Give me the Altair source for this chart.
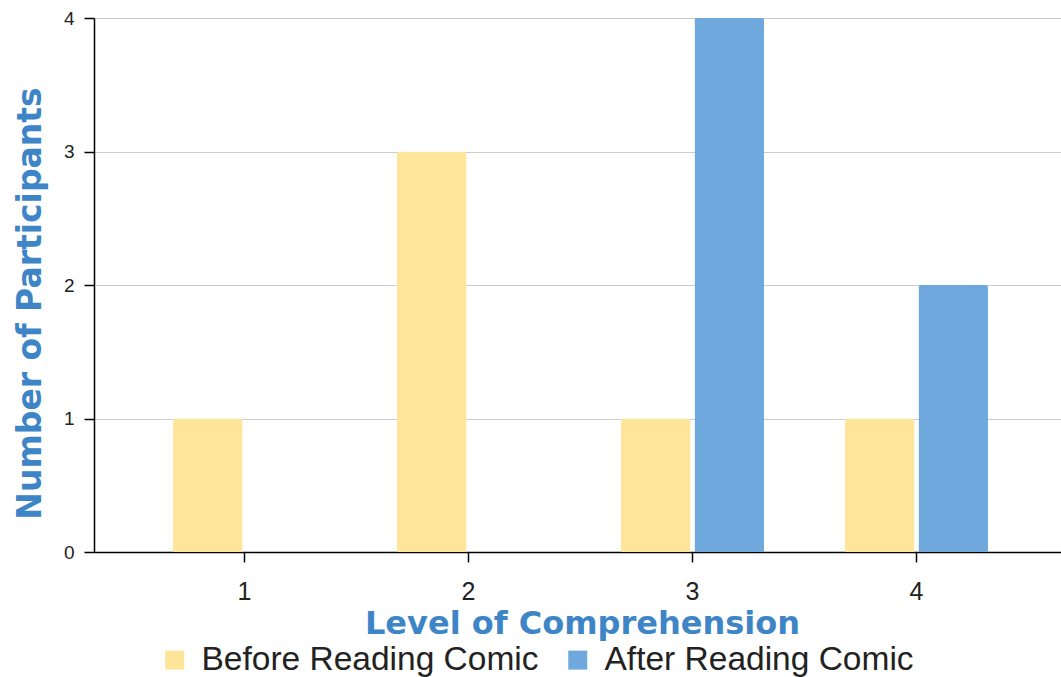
import altair as alt
import pandas as pd

# Comprehension levels and participant counts per survey round
levels = ["1", "2", "3", "4"]
series = ["Before Reading Comic", "After Reading Comic"]
before_counts = [1, 3, 1, 1]
after_counts = [0, 0, 4, 2]
series_colors = ["#FFE599", "#6FA8DC"]
y_ticks = [0, 1, 2, 3, 4]

rows = []
for lvl, b, a in zip(levels, before_counts, after_counts):
    rows.append({"level": lvl, "group": series[0], "count": b})
    rows.append({"level": lvl, "group": series[1], "count": a})
df = pd.DataFrame(rows)

title_blue = "#3D85C6"
title_font = "DejaVu Sans"
body_font = "Liberation Sans"

chart = (
    alt.Chart(df)
    .mark_bar(cornerRadiusTopLeft=2, cornerRadiusTopRight=2, opacity=1)
    .encode(
        x=alt.X(
            "level:N",
            sort=levels,
            scale=alt.Scale(range=[0, 973], paddingInner=0, paddingOuter=0.172),
            axis=alt.Axis(
                title="Level of Comprehension",
                labelAngle=0,
                labelFont=body_font,
                labelFontSize=25,
                labelColor="#222222",
                labelPadding=17,
                tickSize=10,
                tickColor="#000000",
                tickWidth=1.5,
                domainColor="#000000",
                domainWidth=1.5,
                grid=False,
                titleFont=title_font,
                titleFontSize=32,
                titleFontWeight="bold",
                titleColor=title_blue,
                titleX=488,
                titleY=81,
                titleAlign="center",
                titleBaseline="alphabetic",
            ),
        ),
        xOffset=alt.XOffset(
            "group:N",
            sort=series,
            scale=alt.Scale(paddingInner=0.054, paddingOuter=0.551),
        ),
        y=alt.Y(
            "count:Q",
            scale=alt.Scale(domain=[0, 4], nice=False),
            axis=alt.Axis(
                title="Number of Participants",
                values=y_ticks,
                format="d",
                labelFont=body_font,
                labelFontSize=19,
                labelColor="#222222",
                labelPadding=10,
                tickSize=10,
                tickColor="#000000",
                tickWidth=1.5,
                domainColor="#000000",
                domainWidth=1.5,
                grid=True,
                gridColor="#CCCCCC",
                gridWidth=1.2,
                titleFont=title_font,
                titleFontSize=33,
                titleFontWeight="bold",
                titleColor=title_blue,
                titleAngle=270,
                titleX=-54,
                titleY=285,
                titleAlign="center",
                titleBaseline="alphabetic",
            ),
        ),
        color=alt.Color(
            "group:N",
            sort=series,
            scale=alt.Scale(domain=series, range=series_colors),
            legend=alt.Legend(
                title=None,
                orient="none",
                legendX=64,
                legendY=625,
                direction="horizontal",
                columns=2,
                columnPadding=22,
                symbolType="square",
                symbolSize=361,
                symbolStrokeWidth=0,
                symbolOpacity=1,
                labelFont=body_font,
                labelFontSize=33.5,
                labelColor="#222222",
                labelOffset=10,
                labelLimit=0,
                padding=0,
            ),
        ),
    )
    .properties(
        width=967,
        height=534,
        autosize=alt.AutoSizeParams(type="none"),
        padding={"left": 94, "top": 18, "right": 0, "bottom": 125},
    )
    .configure_view(stroke=None)
)

chart.save("out.html", embed_options={"renderer": "svg", "actions": False})
